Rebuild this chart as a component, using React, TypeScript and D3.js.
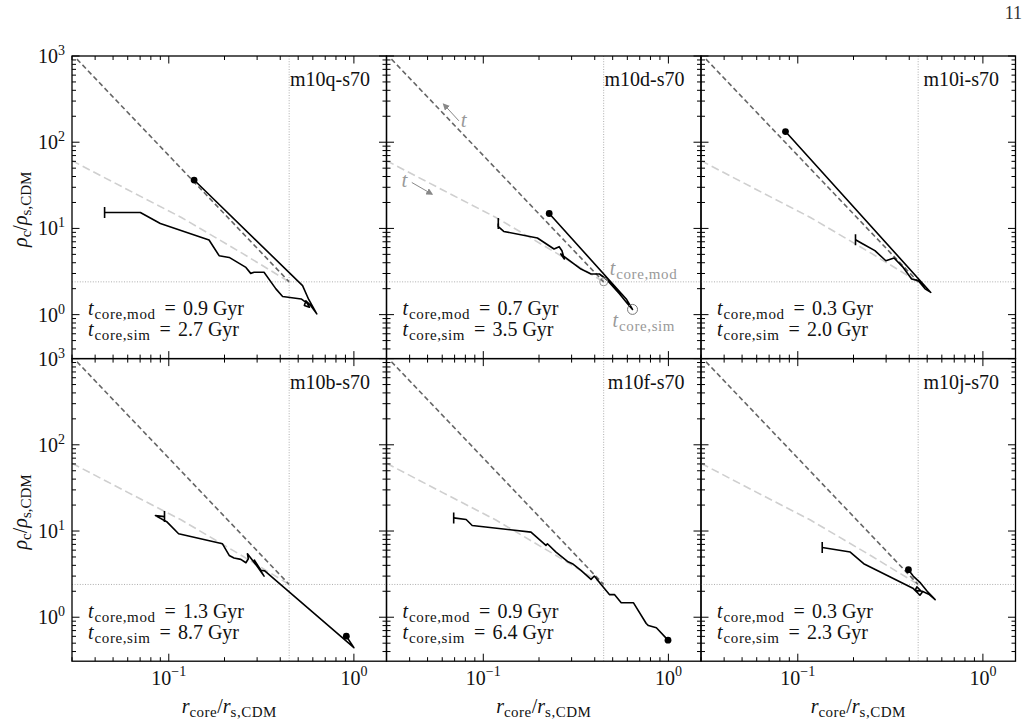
import * as d3 from "d3";
import React from "react";

const panelNames = ["m10q-s70", "m10d-s70", "m10i-s70", "m10b-s70", "m10f-s70", "m10j-s70"];
const tCoreMod = ["0.9", "0.7", "0.3", "1.3", "0.9", "0.3"];
const tCoreSim = ["2.7", "3.5", "2.0", "8.7", "6.4", "2.3"];

// simulated tracks [r_core/r_s,CDM, rho_c/rho_s,CDM], from first snapshot (bar) to last (dot)
const m10q = [
  [0.045, 15.3], [0.0702, 15.3], [0.09, 11.4], [0.165, 7.34], [0.187, 4.83], [0.212, 4.61],
  [0.261, 3.53], [0.277, 3.01], [0.289, 3.1], [0.327, 3.1], [0.379, 1.99], [0.412, 1.62],
  [0.519, 1.52], [0.56, 1.35], [0.575, 1.22], [0.54, 1.28], [0.55, 1.45], [0.58, 1.3],
  [0.63, 1.02], [0.57, 1.5], [0.528, 2.17], [0.137, 36.4],
];
const m10d = [
  [0.1205, 11.4], [0.1205, 10.5], [0.129, 9.23], [0.196, 7.74], [0.241, 5.77], [0.257, 6.14],
  [0.266, 5.52], [0.274, 4.42], [0.262, 5.05], [0.337, 3.38], [0.382, 2.96], [0.424, 2.96],
  [0.461, 2.59], [0.545, 1.74], [0.6, 1.35], [0.64, 1.15], [0.592, 1.52], [0.227, 14.9],
];
const m10i = [
  [0.205, 7.4], [0.225, 6.6], [0.261, 5.52], [0.299, 4.22], [0.331, 4.54], [0.371, 3.53],
  [0.412, 2.59], [0.448, 2.48], [0.487, 1.99], [0.523, 1.81], [0.0858, 133],
];
const m10b = [
  [0.0948, 14.7], [0.0847, 15.1], [0.098, 12.7], [0.113, 9.29], [0.195, 7.11], [0.212, 5.21],
  [0.225, 4.86], [0.245, 4.69], [0.261, 4.29], [0.269, 4.77], [0.266, 5.45], [0.3, 3.9],
  [0.327, 3.0], [0.29, 4.6], [0.315, 3.5], [0.33, 3.45], [1.0, 0.443], [0.91, 0.603],
];
const m10f = [
  [0.0692, 14.2], [0.0808, 13.6], [0.0871, 11.6], [0.181, 9.71], [0.218, 6.8], [0.222, 7.11],
  [0.247, 5.7], [0.285, 4.44], [0.303, 4.18], [0.337, 3.49], [0.382, 2.75], [0.398, 3.01],
  [0.433, 2.39], [0.48, 1.83], [0.511, 1.83], [0.556, 1.47], [0.648, 1.47], [0.759, 0.846],
  [0.78, 0.8], [0.861, 0.754], [0.995, 0.542],
];
const m10j = [
  [0.1355, 6.45], [0.192, 5.7], [0.227, 4.18], [0.421, 2.15], [0.457, 1.8], [0.47, 1.95],
  [0.44, 2.25], [0.43, 2.05], [0.47, 2.0], [0.51, 1.85], [0.552, 1.6], [0.5, 2.0],
  [0.46, 2.5], [0.42, 3.0], [0.396, 3.56],
];
const tracks = [m10q, m10d, m10i, m10b, m10f, m10j];

// analytic model (same in every panel)
const modelExpand = [[0.03, 61], [0.06, 28.1], [0.117, 13.4], [0.25, 5.13], [0.447, 2.4]];
const modelCollapse = [[0.0319, 920], [0.137, 34.5], [0.447, 2.4]];
const rCross = 0.447;
const rhoCross = 2.4;

// annotations in m10d
const arrowCollapse = [[0.0738, 177], [0.0611, 276]];
const arrowExpand = [[0.0411, 34.1], [0.0528, 25.0]];
const tLabelCollapse = [0.0756, 151];
const tLabelExpand = [0.0361, 30.4];
const simEnd = [0.64, 1.15];

const W = 1028, H = 727;
const L = 72, T = 56, PW = 314.5, PH = 302.6;
const xDomain = [0.03, 1.5];
const yDomain = [Math.pow(10, -0.51), 1000];
const FONT = "Liberation Serif";

function logTicks(lo: number, hi: number) {
  const out: { v: number; major: boolean }[] = [];
  for (let e = -3; e <= 3; e++)
    for (let m = 1; m < 10; m++) {
      const v = m * Math.pow(10, e);
      if (v >= lo * 0.999 && v <= hi * 1.001) out.push({ v, major: m === 1 });
    }
  return out;
}

const expStr = (v: number) => {
  const e = Math.round(Math.log10(v));
  return e < 0 ? "\u2212" + Math.abs(e) : String(e);
};

const Panel = ({ i }: { i: number }) => {
  const col = i % 3, row = Math.floor(i / 3);
  const x0 = L + col * PW, x1 = x0 + PW;
  const y0 = T + row * PH, y1 = y0 + PH;
  const x = d3.scaleLog().domain(xDomain).range([x0, x1]);
  const y = d3.scaleLog().domain(yDomain).range([y1, y0]);
  const line = d3.line<number[]>().x((d) => x(d[0])).y((d) => y(d[1]));
  const track = tracks[i];
  const first = track[0], last = track[track.length - 1];
  const clip = `clip${i}`;
  const xt = logTicks(xDomain[0], xDomain[1]);
  const yt = logTicks(yDomain[0], yDomain[1]);

  return (
    <g>
      <defs>
        <clipPath id={clip}>
          <rect x={x0} y={y0} width={PW} height={PH} />
        </clipPath>
      </defs>
      <g clipPath={`url(#${clip})`}>
        <line x1={x(rCross)} x2={x(rCross)} y1={y0} y2={y1} stroke="#999" strokeWidth={0.8} strokeDasharray="1,1.6" />
        <line x1={x0} x2={x1} y1={y(rhoCross)} y2={y(rhoCross)} stroke="#999" strokeWidth={0.8} strokeDasharray="1,1.6" />
        <path d={line(modelExpand) || ""} fill="none" stroke="#cfcfcf" strokeWidth={1.6} strokeDasharray="8,4" />
        <path d={line(modelCollapse) || ""} fill="none" stroke="#666" strokeWidth={1.6} strokeDasharray="5,3" />
        <path d={line(track) || ""} fill="none" stroke="#000" strokeWidth={1.6} strokeLinejoin="round" />
        <line x1={x(first[0])} x2={x(first[0])} y1={y(first[1]) - 5.5} y2={y(first[1]) + 5.5} stroke="#000" strokeWidth={1.6} />
        <circle cx={x(last[0])} cy={y(last[1])} r={3.4} fill="#000" />
        {i === 1 && (
          <g fill="#999">
            <path d={line(arrowCollapse) || ""} stroke="#888" strokeWidth={1} markerEnd="url(#arrowHead)" />
            <path d={line(arrowExpand) || ""} stroke="#888" strokeWidth={1} markerEnd="url(#arrowHead)" />
            <text x={x(tLabelCollapse[0])} y={y(tLabelCollapse[1])} fontSize={21} fontStyle="italic" fontFamily={FONT}>t</text>
            <text x={x(tLabelExpand[0])} y={y(tLabelExpand[1])} fontSize={21} fontStyle="italic" fontFamily={FONT}>t</text>
            <circle cx={x(rCross)} cy={y(rhoCross)} r={4} fill="none" stroke="#999" strokeWidth={1} />
            <circle cx={x(simEnd[0])} cy={y(simEnd[1])} r={5} fill="none" stroke="#777" strokeWidth={1} />
            <text x={x(rCross) + 6} y={y(rhoCross) - 7} fontSize={20} fontFamily={FONT}>
              <tspan fontStyle="italic">t</tspan>
              <tspan fontSize={15} dy={4} dx={1} letterSpacing={0.6}>core,mod</tspan>
            </text>
            <text x={x(simEnd[0]) - 20} y={y(simEnd[1]) + 18} fontSize={20} fontFamily={FONT}>
              <tspan fontStyle="italic">t</tspan>
              <tspan fontSize={15} dy={4} dx={1} letterSpacing={0.6}>core,sim</tspan>
            </text>
          </g>
        )}
      </g>

      {/* ticks, inward on all sides */}
      {xt.map((t, k) => {
        const len = t.major ? 7.5 : 4;
        return (
          <g key={"x" + k} stroke="#000" strokeWidth={1}>
            <line x1={x(t.v)} x2={x(t.v)} y1={y1} y2={y1 - len} />
            <line x1={x(t.v)} x2={x(t.v)} y1={y0} y2={y0 + len} />
          </g>
        );
      })}
      {yt.map((t, k) => {
        const len = t.major ? 7.5 : 4;
        return (
          <g key={"y" + k} stroke="#000" strokeWidth={1}>
            <line x1={x0} x2={x0 + len} y1={y(t.v)} y2={y(t.v)} />
            <line x1={x1} x2={x1 - len} y1={y(t.v)} y2={y(t.v)} />
          </g>
        );
      })}
      <rect x={x0} y={y0} width={PW} height={PH} fill="none" stroke="#000" strokeWidth={1.3} />

      <text x={x1 - 16.5} y={y0 + 30} textAnchor="end" fontSize={20} fontFamily={FONT} fill="#111">
        {panelNames[i]}
      </text>
      <text x={x0 + 16} y={y1 - 43.5} fontSize={20} fontFamily={FONT} fill="#111">
        <tspan fontStyle="italic">t</tspan>
        <tspan fontSize={15} dy={4} dx={1} letterSpacing={0.6}>core,mod</tspan>
        <tspan dy={-4} dx={9}>=</tspan>
        <tspan dx={7}>{`${tCoreMod[i]} Gyr`}</tspan>
      </text>
      <text x={x0 + 16} y={y1 - 22.5} fontSize={20} fontFamily={FONT} fill="#111">
        <tspan fontStyle="italic">t</tspan>
        <tspan fontSize={15} dy={4} dx={1} letterSpacing={0.6}>core,sim</tspan>
        <tspan dy={-4} dx={9}>=</tspan>
        <tspan dx={7}>{`${tCoreSim[i]} Gyr`}</tspan>
      </text>

      {col === 0 &&
        yt.filter((t) => t.major).map((t, k) => (
          <text key={"yl" + k} x={x0 - 7} y={y(t.v) + 7} textAnchor="end" fontSize={20} fontFamily={FONT} fill="#111">
            10<tspan fontSize={14} dy={-8}>{expStr(t.v)}</tspan>
          </text>
        ))}
      {col === 0 && (
        <text transform={`translate(27,${(y0 + y1) / 2 + 2}) rotate(-90)`} textAnchor="middle" fontSize={20} fontFamily={FONT} fill="#111">
          <tspan fontStyle="italic">ρ</tspan>
          <tspan fontSize={15} dy={4}>c</tspan>
          <tspan dy={-4}>/</tspan>
          <tspan fontStyle="italic">ρ</tspan>
          <tspan fontSize={15} dy={4}>s,CDM</tspan>
        </text>
      )}
      {row === 1 &&
        xt.filter((t) => t.major).map((t, k) => (
          <text key={"xl" + k} x={x(t.v)} y={y1 + 24} textAnchor="middle" fontSize={20} fontFamily={FONT} fill="#111">
            10<tspan fontSize={14} dy={-9}>{expStr(t.v)}</tspan>
          </text>
        ))}
      {row === 1 && (
        <text x={(x0 + x1) / 2} y={y1 + 52} textAnchor="middle" fontSize={20} fontFamily={FONT} fill="#111">
          <tspan fontStyle="italic">r</tspan>
          <tspan fontSize={15} dy={4} letterSpacing={0.5}>core</tspan>
          <tspan dy={-4}>/</tspan>
          <tspan fontStyle="italic">r</tspan>
          <tspan fontSize={15} dy={4} letterSpacing={0.5}>s,CDM</tspan>
        </text>
      )}
    </g>
  );
};

export default function App() {
  return (
    <svg width={W} height={H} style={{ position: "absolute", left: 0, top: 0, background: "#fff" }}>
      <defs>
        <marker id="arrowHead" viewBox="0 0 10 10" refX={8} refY={5} markerWidth={7} markerHeight={7} orient="auto" markerUnits="userSpaceOnUse">
          <path d="M0,0 L10,5 L0,10 z" fill="#888" />
        </marker>
      </defs>
      <rect width={W} height={H} fill="#fff" />
      <text x={1022} y={19} textAnchor="end" fontSize={18} fontFamily={FONT} fill="#333">11</text>
      {panelNames.map((_, i) => (
        <Panel key={i} i={i} />
      ))}
    </svg>
  );
}
